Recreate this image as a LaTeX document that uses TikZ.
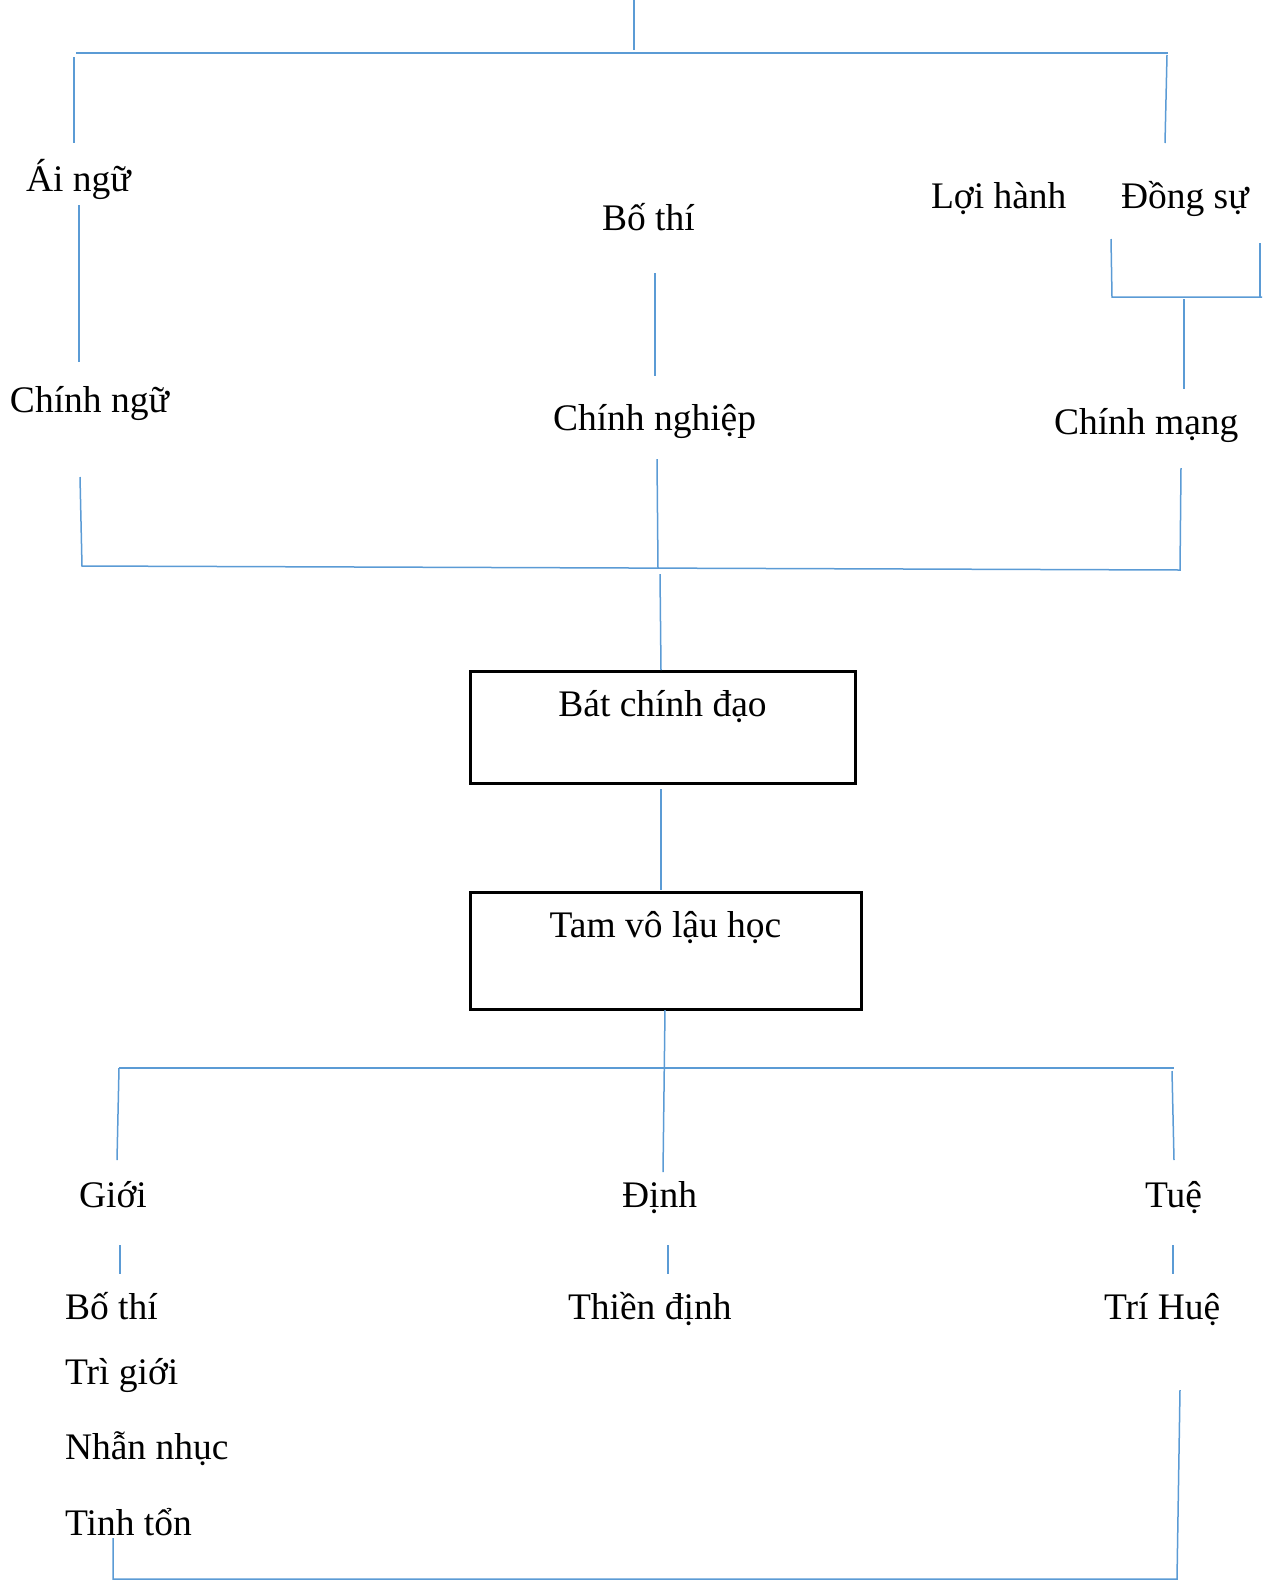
\documentclass[tikz,border=0pt]{standalone}
\usepackage{fontspec}
\setmainfont{Liberation Serif}
\definecolor{lineblue}{RGB}{91,155,213}
\begin{document}
\begin{tikzpicture}[x=0.5pt,y=-0.5pt,
  lbl/.style={anchor=base west,inner sep=0pt,outer sep=0pt,font=\fontsize{18.75}{22}\selectfont},
  box/.style={draw=black,line width=1.5pt,anchor=base,inner xsep=0pt,inner ysep=0pt,
    text height=22.5pt,font=\fontsize{18.75}{22}\selectfont},
  conn/.style={draw=lineblue,line width=0.75pt}]
\useasboundingbox (0,0) rectangle (1272,1585);

% text nodes (top)
\node[lbl] (aingu) at (26,191) {Ái ngữ};
\node[lbl] (chinhngu) at (10,412) {Chính ngữ};
\node[lbl] (bothiA) at (602,230) {Bố thí};
\node[lbl] (chinhnghiep) at (553,430) {Chính nghiệp};
\node[lbl] (loihanh) at (931,208) {Lợi hành};
\node[lbl] (dongsu) at (1121,208) {Đồng sự};
\node[lbl] (chinhmang) at (1054,434) {Chính mạng};

% boxes
\node[box,minimum width=192.5pt,text depth=33.5pt] (batchinh) at (662.5,716) {Bát chính đạo};
\node[box,minimum width=195.5pt,text depth=36pt] (tamvo) at (665.5,937) {Tam vô lậu học};

% text nodes (bottom)
\node[lbl] (gioi) at (79,1207) {Giới};
\node[lbl] (dinh) at (622,1207) {Định};
\node[lbl] (tue) at (1145,1207) {Tuệ};
\node[lbl] (bothiB) at (65,1319) {Bố thí};
\node[lbl] (thiendinh) at (568,1319) {Thiền định};
\node[lbl] (trihue) at (1104,1319) {Trí Huệ};
\node[lbl] (trigioi) at (65,1384) {Trì giới};
\node[lbl] (nhannhuc) at (65,1459) {Nhẫn nhục};
\node[lbl] (tinhton) at (65,1535) {Tinh tổn};

% coordinates
\coordinate (t0) at (634,0);
\coordinate (t1) at (634,50);
\coordinate (hL) at (76,53);
\coordinate (hR) at (1168,53);
\coordinate (aL1) at (74,57);
\coordinate (aL2) at (74,143);
\coordinate (aR1) at (1167,55);
\coordinate (aR2) at (1165,143);
\coordinate (n1a) at (79,205);
\coordinate (n1b) at (79,362);
\coordinate (n2a) at (655,273);
\coordinate (n2b) at (655,376);
\coordinate (bk1) at (1111,239);
\coordinate (bk2) at (1112,297);
\coordinate (bk3) at (1262,297);
\coordinate (bk4) at (1260,243);
\coordinate (bk5) at (1260,297);
\coordinate (n3a) at (1184,299);
\coordinate (n3b) at (1184,389);
\coordinate (m1a) at (80,477);
\coordinate (m1b) at (82,566);
\coordinate (m2a) at (657,459);
\coordinate (m2b) at (658,568);
\coordinate (m3a) at (1181,468);
\coordinate (m3b) at (1180,570);
\coordinate (c1) at (660,574);
\coordinate (c1b) at (661,670);
\coordinate (c2) at (661,789);
\coordinate (c3) at (661,890);
\coordinate (d1) at (665,1010);
\coordinate (d2) at (663,1172);
\coordinate (gL) at (119,1068);
\coordinate (gR) at (1174,1068);
\coordinate (gL2) at (117,1160);
\coordinate (gR1) at (1172,1071);
\coordinate (gR2) at (1174,1160);
\coordinate (s1a) at (120,1245);
\coordinate (s1b) at (120,1274);
\coordinate (s2a) at (668,1245);
\coordinate (s2b) at (668,1274);
\coordinate (s3a) at (1173,1245);
\coordinate (s3b) at (1173,1274);
\coordinate (e1) at (113,1538);
\coordinate (e2) at (113,1579);
\coordinate (e3) at (1177,1579);
\coordinate (e4) at (1180,1390);

% connectors
\draw[conn] (t0) -- (t1);
\draw[conn] (hL) -- (hR);
\draw[conn] (aL1) -- (aL2);
\draw[conn] (aR1) -- (aR2);
\draw[conn] (n1a) -- (n1b);
\draw[conn] (n2a) -- (n2b);
\draw[conn] (bk1) -- (bk2) -- (bk3);
\draw[conn] (bk4) -- (bk5);
\draw[conn] (n3a) -- (n3b);
\draw[conn] (m1a) -- (m1b) -- (m3b) -- (m3a);
\draw[conn] (m2a) -- (m2b);
\draw[conn] (c1) -- (c1b);
\draw[conn] (c2) -- (c3);
\draw[conn] (d1) -- (d2);
\draw[conn] (gL) -- (gR);
\draw[conn] (gL) -- (gL2);
\draw[conn] (gR1) -- (gR2);
\draw[conn] (s1a) -- (s1b);
\draw[conn] (s2a) -- (s2b);
\draw[conn] (s3a) -- (s3b);
\draw[conn] (e1) -- (e2) -- (e3) -- (e4);
\end{tikzpicture}
\end{document}
